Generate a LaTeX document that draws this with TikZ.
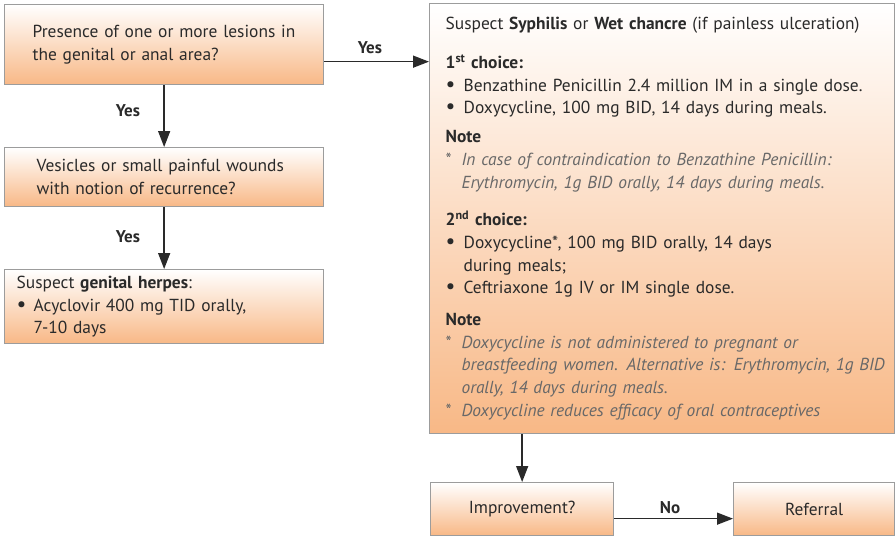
\documentclass[tikz,border=0pt]{standalone}
\usepackage{fontspec}
\setmainfont{PT Sans}
\usetikzlibrary{arrows.meta}
\definecolor{peach}{HTML}{F8B886}
\definecolor{edge}{HTML}{9C9C9C}
\definecolor{ink}{HTML}{2A2A2A}
\definecolor{notegray}{HTML}{686868}
\newcommand\bul{\makebox[18pt][l]{\scalebox{1.25}{\textbullet}}}
\newcommand\starmark{\makebox[16pt][l]{\upshape *}}
\newcommand\ind{\hspace*{18pt}}
\newcommand\nind{\hspace*{16pt}}
\begin{document}
\begin{tikzpicture}[x=1pt,y=-1pt,
  box/.style={draw=edge, line width=1.3pt, top color=white, bottom color=peach,
    inner ysep=0pt, anchor=north west, align=left, text=ink,
    font=\fontsize{17.4}{22.7}\selectfont},
  flow/.style={draw=ink, line width=1.4pt, -{Triangle[length=16pt,width=12pt]}},
  lbl/.style={font=\bfseries\fontsize{17}{18}\selectfont, text=ink, inner sep=0pt}]
\useasboundingbox (0,0) rectangle (896,536);

% left column
\node[box, inner xsep=28pt, text width=263pt, minimum height=80pt] (lesion) at (4,4)
  {Presence of one or more lesions in\\the genital or anal area?};
\node[box, inner xsep=32pt, text width=255pt, minimum height=59pt] (vesicle) at (4,147)
  {Vesicles or small painful wounds\\with notion of recurrence?};
\node[box, inner xsep=12pt, text width=295pt, minimum height=74pt] (herpes) at (4,269)
  {Suspect \textbf{genital herpes}:\\
   \makebox[17pt][l]{\scalebox{1.25}{\textbullet}}Acyclovir 400 mg TID orally,\\
   \hspace*{17pt}7-10 days};

% treatment box
\node[box, inner xsep=8pt, text width=449pt, minimum height=430pt] (syphilis) at (429,3)
  {\hspace*{8pt}Suspect \textbf{Syphilis} or \textbf{Wet chancre} (if painless ulceration)\\[16pt]
   \hspace*{8pt}\textbf{1\textsuperscript{st} choice:}\\
   \hspace*{8pt}\bul Benzathine Penicillin 2.4 million IM in a single dose.\\
   \hspace*{8pt}\bul Doxycycline, 100 mg BID, 14 days during meals.\\[6pt]
   \hspace*{8pt}\textbf{Note}\\
   \hspace*{8pt}{\color{notegray}\itshape\starmark In case of contraindication to Benzathine Penicillin:}\\
   \hspace*{8pt}{\color{notegray}\itshape\nind Erythromycin, 1g BID orally, 14 days during meals.}\\[15pt]
   \hspace*{8pt}\textbf{2\textsuperscript{nd} choice:}\\
   \hspace*{8pt}\bul Doxycycline*, 100 mg BID orally, 14 days\\
   \hspace*{8pt}\ind during meals;\\
   \hspace*{8pt}\bul Ceftriaxone 1g IV or IM single dose.\\[9pt]
   \hspace*{8pt}\textbf{Note}\\
   \hspace*{8pt}{\color{notegray}\itshape\starmark Doxycycline is not administered to pregnant or}\\
   \hspace*{8pt}{\color{notegray}\itshape\nind breastfeeding women. Alternative is: Erythromycin, 1g BID}\\
   \hspace*{8pt}{\color{notegray}\itshape\nind orally, 14 days during meals.}\\
   \hspace*{8pt}{\color{notegray}\itshape\starmark Doxycycline reduces efficacy of oral contraceptives}};

% outcome boxes
\node[box, inner xsep=0pt, text width=183pt, align=center, minimum height=53pt] (improve) at (430,482)
  {Improvement?};
\node[box, inner xsep=0pt, text width=161pt, align=center, minimum height=53pt] (referral) at (733,482)
  {Referral};

% connectors
\draw[flow] (lesion.south) -- (vesicle.north);
\draw[flow] (vesicle.south) -- (herpes.north);
\draw[flow] ([yshift=-17pt]lesion.east) -- ([yshift=-17pt]lesion.east -| syphilis.west);
\draw[flow] (improve.north |- syphilis.south) -- (improve.north);
\draw[flow] ([yshift=-9.5pt]improve.east) -- ([yshift=-9.5pt]improve.east -| referral.west);

% connector labels
\node[lbl] (yes1) at (128,111) {Yes};
\node[lbl] (yes2) at (128,237) {Yes};
\node[lbl] (yes3) at (370,48) {Yes};
\node[lbl] (no1) at (670,508) {No};
\end{tikzpicture}
\end{document}
